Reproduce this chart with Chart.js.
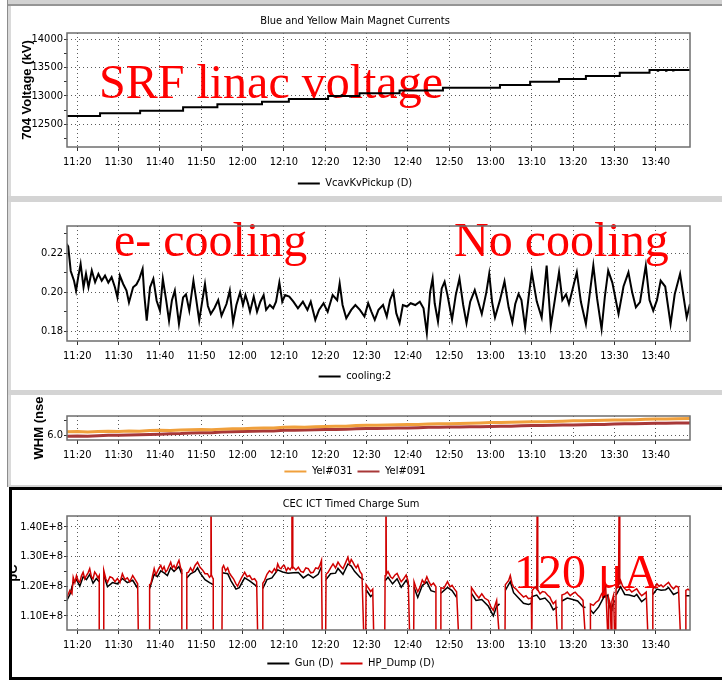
<!DOCTYPE html>
<html>
<head>
<meta charset="utf-8">
<script src="https://cdn.jsdelivr.net/npm/chart.js@4.4.1/dist/chart.umd.min.js"></script>
<style>
  html, body { margin: 0; padding: 0; background: #fff; }
  #page { position: relative; width: 722px; height: 680px; overflow: hidden; }
  #page div, #page canvas { position: absolute; }
</style>
</head>
<body>
<div id="page">
  <div style="left:7px;top:0;width:715px;height:4px;background:#d2d2d2"></div>
  <div style="left:7px;top:4px;width:715px;height:2px;background:#959595"></div>
  <div style="left:7px;top:0;width:1px;height:487px;background:#8c8c8c"></div>
  <div style="left:8px;top:6px;width:3px;height:481px;background:#dadada"></div>
  <div style="left:8px;top:196px;width:714px;height:6px;background:#d4d4d4"></div>
  <div style="left:8px;top:390px;width:714px;height:5px;background:#d4d4d4"></div>
  <div style="left:8px;top:485px;width:714px;height:2px;background:#d4d4d4"></div>
  <div style="left:9px;top:487px;width:720px;height:193px;border:3px solid #000;box-sizing:border-box"></div>
  <canvas id="voltChart" width="702" height="192" style="left:20px;top:7px"></canvas>
  <canvas id="coolChart" width="702" height="190" style="left:20px;top:202px"></canvas>
  <canvas id="fwhmChart" width="702" height="92" style="left:20px;top:395px"></canvas>
  <canvas id="chargeChart" width="710" height="189" style="left:12px;top:490px"></canvas>
</div>
<script>
// time axis: minutes after 11:00
const tickMinutes = [20, 30, 40, 50, 60, 70, 80, 90, 100, 110, 120, 130, 140, 150, 160];
const tickLabels = ['11:20', '11:30', '11:40', '11:50', '12:00', '12:10', '12:20', '12:30',
  '12:40', '12:50', '13:00', '13:10', '13:20', '13:30', '13:40'];

// 704 voltage (kV), value starts at the given minute
const voltSteps = [[17.5, 12646], [25.5, 12694], [35.2, 12740], [45.6, 12800], [53.9, 12853],
  [64.7, 12898], [71.2, 12945], [80.7, 13000], [82.5, 12990], [82.6, 13000], [84.0, 13012],
  [84.1, 13000], [86.0, 12992], [86.1, 13000], [88.3, 13048], [98.0, 13097], [108.5, 13146],
  [122.3, 13194], [129.6, 13252], [136.6, 13300], [143.1, 13352], [151.3, 13408], [158.5, 13458],
  [160.5, 13446], [160.6, 13458], [162.5, 13444], [162.6, 13458], [164.2, 13448], [164.3, 13456],
  [168.3, 13455]];
const voltTicks = [12250, 12500, 12750, 13000, 13250, 13500, 13750, 14000];
const voltTickLabels = ['', '12500', '', '13000', '', '13500', '', '14000'];

// cooling:2
const cooling = [[17.4, 0.225], [17.8, 0.2235], [18.4, 0.211], [19.2, 0.206], [19.7, 0.2009],
  [20.2, 0.2077], [20.8, 0.2146], [21.5, 0.2026], [22.1, 0.2095], [22.7, 0.2026], [23.5, 0.2112],
  [24.3, 0.2052], [25.1, 0.2095], [25.9, 0.206], [26.7, 0.2086], [27.5, 0.205], [28.3, 0.2078],
  [29.1, 0.2026], [29.7, 0.1974], [30.3, 0.2086], [31.1, 0.2043], [31.9, 0.2009], [32.5, 0.1948],
  [33.5, 0.2026], [34.3, 0.204], [35.0, 0.2069], [35.8, 0.212], [36.2, 0.199], [36.8, 0.1854],
  [37.6, 0.2026], [38.4, 0.2069], [39.2, 0.1957], [40.0, 0.1906], [40.7, 0.2069], [41.5, 0.196],
  [42.2, 0.1854], [42.9, 0.196], [43.6, 0.2009], [44.6, 0.1837], [45.6, 0.1974], [46.3, 0.199],
  [47.1, 0.1906], [48.1, 0.206], [48.8, 0.196], [49.5, 0.1854], [50.2, 0.195], [50.9, 0.2043],
  [51.6, 0.193], [52.3, 0.1889], [53.2, 0.192], [54.1, 0.196], [54.9, 0.188], [56.1, 0.194],
  [56.9, 0.2009], [57.7, 0.1845], [58.5, 0.1935], [59.4, 0.2], [60.1, 0.1935], [60.7, 0.1986],
  [61.3, 0.1944], [61.8, 0.19], [62.7, 0.1978], [63.5, 0.19], [64.3, 0.1952], [65.1, 0.1986],
  [65.7, 0.191], [66.6, 0.1935], [67.4, 0.1918], [68.1, 0.1952], [68.9, 0.2051], [69.6, 0.1952],
  [70.3, 0.1986], [71.3, 0.1978], [72.3, 0.1952], [73.4, 0.1918], [74.6, 0.1952], [75.7, 0.191],
  [76.5, 0.1952], [77.6, 0.1859], [78.5, 0.191], [79.6, 0.1944], [80.6, 0.19], [81.8, 0.1986],
  [82.9, 0.196], [83.5, 0.2046], [84.2, 0.1935], [85.1, 0.1867], [86.3, 0.191], [87.3, 0.1935],
  [88.4, 0.191], [89.5, 0.1876], [90.4, 0.1944], [91.2, 0.19], [92.0, 0.1859], [92.9, 0.191],
  [94.0, 0.1935], [94.9, 0.1876], [95.7, 0.1961], [96.5, 0.2003], [97.2, 0.1893], [98.0, 0.1842],
  [98.8, 0.1935], [99.8, 0.1927], [100.7, 0.1944], [101.8, 0.1935], [102.9, 0.1952], [103.8, 0.1918],
  [104.6, 0.1791], [105.4, 0.2003], [106.0, 0.2071], [106.5, 0.1944], [107.3, 0.185], [108.2, 0.202],
  [108.9, 0.2054], [109.6, 0.1986], [110.7, 0.1859], [111.6, 0.1986], [112.5, 0.2071], [113.4, 0.1935],
  [114.2, 0.1842], [115.1, 0.1952], [116.2, 0.2012], [117.9, 0.1889], [119.0, 0.2], [119.7, 0.2095],
  [120.4, 0.195], [121.1, 0.1871], [122.3, 0.196], [123.4, 0.2057], [124.4, 0.1923], [125.3, 0.1845],
  [126.0, 0.194], [126.8, 0.1992], [127.5, 0.196], [128.4, 0.182], [129.2, 0.197], [130.0, 0.2103],
  [131.2, 0.1954], [132.4, 0.187], [133.0, 0.2], [133.6, 0.2138], [134.6, 0.1828], [135.5, 0.195],
  [136.6, 0.2103], [137.4, 0.196], [138.3, 0.199], [139.0, 0.194], [140.9, 0.2103], [141.9, 0.195],
  [143.1, 0.1837], [143.9, 0.197], [144.9, 0.2138], [145.8, 0.197], [146.9, 0.1811], [147.7, 0.198],
  [148.5, 0.2112], [149.5, 0.205], [151.0, 0.1889], [152.2, 0.203], [153.4, 0.2103], [154.3, 0.2],
  [155.2, 0.1923], [156.2, 0.195], [157.6, 0.2138], [158.5, 0.196], [159.4, 0.1906], [160.3, 0.196],
  [161.2, 0.206], [162.3, 0.203], [163.6, 0.1837], [164.6, 0.199], [165.9, 0.2095], [167.5, 0.1871],
  [168.3, 0.194]];
const coolTicks = [0.18, 0.19, 0.20, 0.21, 0.22, 0.23];
const coolTickLabels = ['0.18', '', '0.20', '', '0.22', ''];

// FWHM (nsec)
const yel031 = [[17.5, 6.11], [20, 6.12], [22.5, 6.10], [25, 6.12], [27.5, 6.13], [30, 6.12],
  [32.5, 6.14], [35, 6.13], [37.5, 6.15], [40, 6.16], [42.5, 6.15], [45, 6.17], [47.5, 6.18],
  [50, 6.19], [52.5, 6.18], [55, 6.20], [57.5, 6.21], [60, 6.21], [62.5, 6.23], [65, 6.24],
  [67.5, 6.24], [70, 6.26], [72.5, 6.27], [75, 6.26], [77.5, 6.28], [80, 6.29], [82.5, 6.30],
  [85, 6.30], [87.5, 6.32], [90, 6.33], [92.5, 6.33], [95, 6.34], [97.5, 6.35], [100, 6.36],
  [102.5, 6.36], [105, 6.37], [107.5, 6.38], [110, 6.38], [112.5, 6.39], [115, 6.40], [117.5, 6.41],
  [120, 6.42], [122.5, 6.42], [125, 6.43], [127.5, 6.44], [130, 6.45], [132.5, 6.45], [135, 6.46],
  [137.5, 6.47], [140, 6.48], [142.5, 6.48], [145, 6.49], [147.5, 6.50], [150, 6.51], [152.5, 6.51],
  [155, 6.52], [157.5, 6.53], [160, 6.54], [162.5, 6.54], [165, 6.55], [168.3, 6.56]];
const yel091 = [[17.5, 5.96], [20, 5.97], [22.5, 5.96], [25, 5.98], [27.5, 5.99], [30, 5.99],
  [32.5, 6.00], [35, 6.01], [37.5, 6.02], [40, 6.03], [42.5, 6.04], [45, 6.05], [47.5, 6.07],
  [50, 6.08], [52.5, 6.08], [55, 6.10], [57.5, 6.11], [60, 6.12], [62.5, 6.13], [65, 6.14],
  [67.5, 6.14], [70, 6.16], [72.5, 6.16], [75, 6.17], [77.5, 6.18], [80, 6.19], [82.5, 6.19],
  [85, 6.20], [87.5, 6.21], [90, 6.22], [92.5, 6.22], [95, 6.23], [97.5, 6.24], [100, 6.24],
  [102.5, 6.25], [105, 6.26], [107.5, 6.26], [110, 6.27], [112.5, 6.27], [115, 6.28], [117.5, 6.28],
  [120, 6.29], [122.5, 6.30], [125, 6.30], [127.5, 6.31], [130, 6.32], [132.5, 6.32], [135, 6.33],
  [137.5, 6.34], [140, 6.34], [142.5, 6.35], [145, 6.36], [147.5, 6.36], [150, 6.37], [152.5, 6.38],
  [155, 6.38], [157.5, 6.39], [160, 6.40], [162.5, 6.40], [165, 6.41], [168.3, 6.41]];
const fwhmTicks = [6.0, 6.5];
const fwhmTickLabels = ['6.0', ''];

// charge sum, units of 1E+8 pC; 1.0 = dropout, 1.6 = spike
const hpDump = [[17.4, 1.16], [18.2, 1.186], [18.7, 1.175], [19.0, 1.23], [19.4, 1.212], [19.8, 1.236],
  [20.2, 1.218], [20.6, 1.213], [21.0, 1.235], [21.4, 1.247], [21.8, 1.225], [22.2, 1.236], [22.6, 1.245],
  [23.0, 1.259], [23.4, 1.232], [23.8, 1.225], [24.2, 1.248], [24.6, 1.24], [25.0, 1.228], [25.3, 1.236],
  [25.3, 1.0], [26.3, 1.0], [26.4, 1.253], [26.9, 1.225], [27.3, 1.213], [27.9, 1.232], [28.5, 1.228],
  [29.1, 1.215], [29.7, 1.226], [30.3, 1.212], [30.9, 1.242], [31.5, 1.222], [32.1, 1.228], [32.7, 1.215],
  [33.4, 1.236], [34.0, 1.222], [34.6, 1.208], [34.8, 1.0], [37.4, 1.0], [37.5, 1.205], [37.8, 1.208],
  [38.2, 1.235], [38.6, 1.259], [39.0, 1.238], [39.4, 1.25], [39.8, 1.262], [40.2, 1.27], [40.6, 1.255],
  [41.0, 1.266], [41.4, 1.248], [41.8, 1.255], [42.2, 1.268], [42.6, 1.281], [43.0, 1.262], [43.4, 1.27],
  [43.8, 1.258], [44.2, 1.275], [44.6, 1.287], [45.0, 1.262], [45.3, 1.255], [45.3, 1.0], [46.4, 1.0],
  [46.5, 1.245], [46.9, 1.247], [47.4, 1.262], [47.9, 1.25], [48.5, 1.27], [49.1, 1.281], [49.7, 1.264],
  [50.3, 1.255], [50.9, 1.242], [51.5, 1.242], [52.0, 1.23], [52.3, 1.235], [52.35, 1.6], [52.45, 1.238],
  [52.7, 1.23], [52.9, 1.225], [52.9, 1.0], [55.0, 1.0], [55.1, 1.262], [55.4, 1.27], [55.9, 1.252],
  [56.4, 1.262], [56.8, 1.245], [57.2, 1.236], [57.8, 1.225], [58.4, 1.208], [58.8, 1.2], [59.2, 1.213],
  [59.8, 1.23], [60.5, 1.247], [61.1, 1.232], [61.7, 1.236], [62.3, 1.222], [62.9, 1.225], [63.4, 1.215],
  [63.7, 1.0], [64.8, 1.0], [64.9, 1.21], [65.3, 1.219], [65.9, 1.24], [66.5, 1.252], [67.1, 1.245],
  [67.7, 1.259], [68.1, 1.25], [68.5, 1.275], [68.9, 1.262], [69.3, 1.259], [69.7, 1.268], [70.1, 1.27],
  [70.6, 1.252], [71.0, 1.262], [71.5, 1.255], [71.9, 1.265], [71.95, 1.6], [72.1, 1.6], [72.15, 1.262],
  [72.3, 1.264], [72.9, 1.255], [73.5, 1.264], [74.1, 1.25], [74.7, 1.247], [75.3, 1.262], [75.9, 1.259],
  [76.5, 1.245], [77.1, 1.247], [77.7, 1.262], [78.3, 1.259], [78.7, 1.27], [79.1, 1.287], [79.3, 1.0],
  [80.1, 1.0], [80.2, 1.24], [80.7, 1.247], [81.3, 1.262], [81.9, 1.275], [82.5, 1.262], [83.1, 1.281],
  [83.7, 1.268], [84.3, 1.259], [84.9, 1.278], [85.5, 1.298], [85.9, 1.275], [86.3, 1.29], [86.7, 1.281],
  [87.1, 1.27], [87.5, 1.262], [87.9, 1.272], [88.4, 1.25], [88.9, 1.24], [89.4, 1.0], [89.8, 1.0],
  [89.9, 1.205], [90.4, 1.195], [91.0, 1.182], [91.5, 1.19], [91.8, 1.0], [94.4, 1.0], [94.5, 1.235],
  [94.7, 1.6], [94.8, 1.24], [95.2, 1.249], [95.8, 1.232], [96.3, 1.226], [96.9, 1.238], [97.4, 1.243],
  [97.9, 1.228], [98.4, 1.215], [99.0, 1.225], [99.6, 1.238], [100.1, 1.215], [100.5, 1.0], [101.4, 1.0],
  [101.5, 1.215], [101.9, 1.198], [102.4, 1.181], [102.9, 1.195], [103.5, 1.221], [104.0, 1.21],
  [104.6, 1.232], [105.1, 1.215], [105.6, 1.203], [106.2, 1.21], [106.8, 1.198], [106.8, 1.0], [107.9, 1.0],
  [108.0, 1.195], [108.7, 1.192], [109.2, 1.205], [109.6, 1.215], [110.2, 1.198], [110.7, 1.203],
  [111.3, 1.19], [111.8, 1.181], [112.4, 1.0], [115.3, 1.0], [115.4, 1.195], [115.9, 1.185], [116.5, 1.172],
  [117.2, 1.16], [117.9, 1.174], [118.6, 1.16], [119.5, 1.152], [120.1, 1.13], [120.7, 1.118], [121.1, 1.135],
  [121.5, 1.152], [122.3, 1.0], [123.5, 1.0], [123.6, 1.205], [124.0, 1.212], [124.4, 1.219], [124.8, 1.236],
  [125.2, 1.21], [125.6, 1.197], [126.2, 1.19], [126.8, 1.18], [127.4, 1.172], [128.0, 1.163], [128.6, 1.168],
  [129.2, 1.158], [129.9, 1.16], [130.0, 1.0], [130.1, 1.185], [130.8, 1.197], [131.2, 1.19], [131.35, 1.6],
  [131.45, 1.188], [132.0, 1.174], [132.6, 1.182], [133.2, 1.18], [133.8, 1.17], [134.4, 1.163], [134.8, 1.15],
  [135.2, 1.141], [135.8, 1.15], [136.3, 1.0], [137.2, 1.0], [137.3, 1.17], [138.0, 1.174], [138.6, 1.18],
  [139.3, 1.168], [139.9, 1.175], [140.5, 1.18], [141.1, 1.17], [141.7, 1.163], [142.4, 1.152], [143.1, 1.0],
  [144.1, 1.0], [144.2, 1.14], [144.9, 1.135], [145.5, 1.145], [146.2, 1.152], [146.9, 1.174], [147.5, 1.185],
  [147.9, 1.197], [148.5, 1.0], [148.6, 1.16], [149.0, 1.14], [149.3, 1.0], [149.4, 1.15], [149.8, 1.17],
  [150.1, 1.0], [150.3, 1.0], [150.4, 1.19], [151.0, 1.2], [151.2, 1.6], [151.3, 1.205], [151.5, 1.219],
  [152.0, 1.2], [152.5, 1.192], [153.0, 1.186], [153.6, 1.19], [154.2, 1.18], [154.8, 1.186], [155.4, 1.191],
  [156.0, 1.178], [156.6, 1.168], [157.2, 1.174], [157.7, 1.18], [158.2, 1.0], [159.2, 1.0], [159.3, 1.19],
  [159.8, 1.197], [160.3, 1.208], [160.8, 1.2], [161.3, 1.204], [161.8, 1.197], [162.4, 1.205], [163.1, 1.213],
  [163.7, 1.2], [164.3, 1.191], [164.9, 1.2], [165.5, 1.197], [166.1, 1.0], [167.2, 1.0], [167.3, 1.186],
  [167.8, 1.19], [168.3, 1.185]];
const gun = [[17.4, 1.15], [18.2, 1.172], [19.0, 1.212], [19.8, 1.222], [20.6, 1.2], [21.4, 1.232],
  [22.2, 1.222], [23.0, 1.24], [23.8, 1.21], [24.6, 1.226], [25.3, 1.215], [25.5, null],
  [26.4, 1.238], [27.3, 1.198], [28.5, 1.212], [29.7, 1.208], [30.9, 1.226], [32.1, 1.212], [33.4, 1.22],
  [34.6, 1.193], [35.0, null], [37.5, 1.192], [38.6, 1.24], [39.4, 1.232], [40.2, 1.252], [41.0, 1.245],
  [41.8, 1.236], [42.6, 1.262], [43.4, 1.25], [44.6, 1.266], [45.3, 1.24], [45.5, null],
  [46.5, 1.228], [47.4, 1.242], [48.5, 1.25], [49.1, 1.262], [49.7, 1.245], [50.9, 1.222], [52.0, 1.212],
  [52.9, 1.205], [53.0, null], [55.1, 1.245], [56.4, 1.242], [57.2, 1.218], [58.4, 1.19], [59.2, 1.195],
  [60.5, 1.228], [61.7, 1.218], [62.9, 1.205], [63.6, 1.198], [63.8, null],
  [64.9, 1.192], [65.9, 1.222], [67.1, 1.228], [68.5, 1.255], [69.7, 1.248], [71.0, 1.244], [72.3, 1.245],
  [73.5, 1.246], [74.7, 1.228], [75.9, 1.24], [77.1, 1.228], [78.3, 1.24], [79.1, 1.265], [79.4, null],
  [80.2, 1.222], [81.3, 1.242], [82.5, 1.244], [83.1, 1.26], [84.3, 1.24], [85.5, 1.275], [86.3, 1.268],
  [87.1, 1.25], [88.4, 1.23], [89.3, 1.222], [89.5, null], [89.9, 1.188], [91.0, 1.165], [91.5, 1.172],
  [91.9, null], [94.5, 1.218], [95.2, 1.23], [96.3, 1.208], [97.4, 1.225], [98.4, 1.196], [99.6, 1.22],
  [100.4, 1.198], [100.6, null], [101.5, 1.196], [102.4, 1.162], [103.5, 1.202], [104.6, 1.214],
  [105.6, 1.185], [106.7, 1.18], [106.9, null], [108.0, 1.176], [109.6, 1.196], [110.7, 1.185],
  [111.8, 1.162], [112.5, null], [115.4, 1.176], [116.5, 1.152], [117.9, 1.155], [119.5, 1.132],
  [120.7, 1.1], [121.5, 1.132], [122.2, 1.14], [122.4, null], [123.6, 1.186], [124.8, 1.215],
  [125.6, 1.178], [126.8, 1.16], [128.0, 1.142], [129.2, 1.138], [129.9, 1.142], [130.1, 1.165],
  [131.2, 1.17], [132.0, 1.155], [133.2, 1.16], [134.4, 1.142], [135.2, 1.12], [136.2, 1.13], [136.4, null],
  [137.3, 1.15], [138.6, 1.16], [139.9, 1.155], [141.1, 1.15], [142.4, 1.13], [143.0, 1.128], [143.2, null],
  [144.2, 1.12], [144.9, 1.108], [146.2, 1.13], [147.5, 1.165], [148.4, 1.17], [148.6, 1.14],
  [149.2, 1.118], [149.4, 1.13], [150.0, 1.15], [150.2, null], [150.4, 1.17], [151.5, 1.198],
  [152.5, 1.172], [153.6, 1.17], [154.8, 1.165], [155.4, 1.172], [156.6, 1.148], [157.7, 1.16],
  [158.1, null], [159.3, 1.172], [160.3, 1.19], [161.3, 1.186], [162.4, 1.188], [163.1, 1.195],
  [164.3, 1.172], [165.5, 1.18], [166.0, null], [167.3, 1.168], [168.3, 1.168]];
const chargeTicks = [1.10, 1.15, 1.20, 1.25, 1.30, 1.35, 1.40];
const chargeTickLabels = ['1.10E+8', '', '1.20E+8', '', '1.30E+8', '', '1.40E+8'];

const NARROW = '"Liberation Sans Narrow", "Arial Narrow", "DejaVu Sans Condensed", sans-serif';
const GRID = '#5a5a5a';
const X_AXIS_HEIGHT = 21; // tick 4 + padding 6 + one 11px label line

function timeAxis() {
  return {
    type: 'linear',
    min: 17.5,
    max: 168.3,
    afterBuildTicks: (scale) => { scale.ticks = tickMinutes.map((v) => ({ value: v })); },
    afterFit: (scale) => { scale.height = X_AXIS_HEIGHT; },
    ticks: {
      autoSkip: false, maxRotation: 0, padding: 6, color: '#000',
      font: { family: NARROW, size: 11, lineHeight: 1 },
      callback: (v, i) => tickLabels[i],
    },
    grid: { color: GRID, tickLength: 4, tickColor: '#333', tickBorderDash: [] },
    border: { display: false, dash: [1, 3] },
  };
}

function valueAxis(min, max, values, labels, width, title, titlePad) {
  return {
    min, max,
    afterBuildTicks: (scale) => { scale.ticks = values.map((v) => ({ value: v })); },
    afterFit: (scale) => { scale.width = width; },
    ticks: {
      autoSkip: false, padding: 1, color: '#000',
      font: { family: NARROW, size: 11 },
      callback: (v, i) => labels[i],
    },
    grid: {
      color: (ctx) => (labels[ctx.index] ? GRID : 'rgba(0,0,0,0)'),
      tickLength: 3, tickColor: '#333', tickBorderDash: [],
    },
    border: { display: false, dash: [1, 3] },
    title: {
      display: !!title, text: title || '', color: '#000',
      font: { family: '"Liberation Sans", Arial, sans-serif', size: 13, weight: 'bold' },
      padding: { top: titlePad || 0, bottom: 0 },
    },
  };
}

const plotFrame = {
  id: 'plotFrame',
  afterDatasetsDraw(chart) {
    const { ctx, chartArea: a } = chart;
    ctx.save();
    ctx.strokeStyle = '#6e6e6e';
    ctx.lineWidth = 1.5;
    ctx.strokeRect(a.left, a.top, a.right - a.left, a.bottom - a.top);
    ctx.restore();
  },
};

// red slide annotations, offsets from the plot's top-left corner
function redNotes(notes) {
  return {
    id: 'redNotes',
    beforeDatasetsDraw(chart) {
      const { ctx, chartArea } = chart;
      ctx.save();
      ctx.fillStyle = '#ff0000';
      ctx.font = '48px "Liberation Serif", "Times New Roman", serif';
      ctx.textBaseline = 'alphabetic';
      notes.forEach((n) => ctx.fillText(n.text, chartArea.left + n.dx, chartArea.top + n.dy));
      ctx.restore();
    },
  };
}

function line(label, data, color, width, extra) {
  return Object.assign({
    label, data,
    borderColor: color, backgroundColor: color, borderWidth: width,
    pointRadius: 0, tension: 0, fill: false,
  }, extra || {});
}

function makeChart(id, opts) {
  const plugins = [plotFrame];
  if (opts.notes) plugins.push(redNotes(opts.notes));
  return new Chart(document.getElementById(id), {
    type: 'line',
    data: { datasets: opts.datasets },
    options: {
      responsive: false,
      animation: false,
      layout: { padding: { top: opts.padTop || 0, right: 32, left: 0, bottom: 0 } },
      scales: { x: timeAxis(), y: opts.yAxis },
      plugins: {
        title: opts.title ? {
          display: true, text: opts.title, color: '#000',
          font: { family: NARROW, size: 11, weight: 'normal' },
          padding: { top: 8, bottom: 4.8 },
        } : { display: false },
        legend: {
          position: 'bottom',
          labels: {
            color: '#000', font: { family: NARROW, size: 11 },
            boxWidth: 22, boxHeight: 2, padding: opts.legendPad,
            sort: (a, b) => a.datasetIndex - b.datasetIndex,
            generateLabels: (chart) => Chart.defaults.plugins.legend.labels.generateLabels(chart)
              .map((item) => Object.assign(item, { fillStyle: item.strokeStyle, lineWidth: 0 })),
          },
        },
        tooltip: { enabled: false },
      },
    },
    plugins,
  });
}

makeChart('voltChart', {
  title: 'Blue and Yellow Main Magnet Currents',
  legendPad: 10,
  yAxis: valueAxis(12100, 14110, voltTicks, voltTickLabels, 47, '704 Voltage (kV)', 0),
  datasets: [line('VcavKvPickup (D)', voltSteps, '#000', 2, { stepped: true })],
  notes: [{ text: 'SRF linac voltage', dx: 32, dy: 65 }],
});

makeChart('coolChart', {
  padTop: 24,
  legendPad: 9,
  yAxis: valueAxis(0.175, 0.2341, coolTicks, coolTickLabels, 47),
  datasets: [line('cooling:2', cooling, '#000', 2)],
  notes: [{ text: 'e- cooling', dx: 47, dy: 30 }, { text: 'No cooling', dx: 387, dy: 30 }],
});

makeChart('fwhmChart', {
  padTop: 21,
  legendPad: 5,
  yAxis: valueAxis(5.833, 6.643, fwhmTicks, fwhmTickLabels, 47, 'WHM (nse', 12),
  datasets: [
    line('Yel#031', yel031, '#f0a03c', 3),
    line('Yel#091', yel091, '#a83838', 3),
  ],
});

makeChart('chargeChart', {
  title: 'CEC ICT Timed Charge Sum',
  legendPad: 7,
  yAxis: valueAxis(1.052, 1.437, chargeTicks, chargeTickLabels, 55, 'pC', -6),
  datasets: [
    line('Gun (D)', gun, '#000', 1.5, { order: 2 }),
    line('HP_Dump (D)', hpDump, '#d00000', 1.5, { order: 1 }),
  ],
  notes: [{ text: '120 \u03bcA', dx: 447, dy: 72 }],
});
</script>
</body>
</html>
